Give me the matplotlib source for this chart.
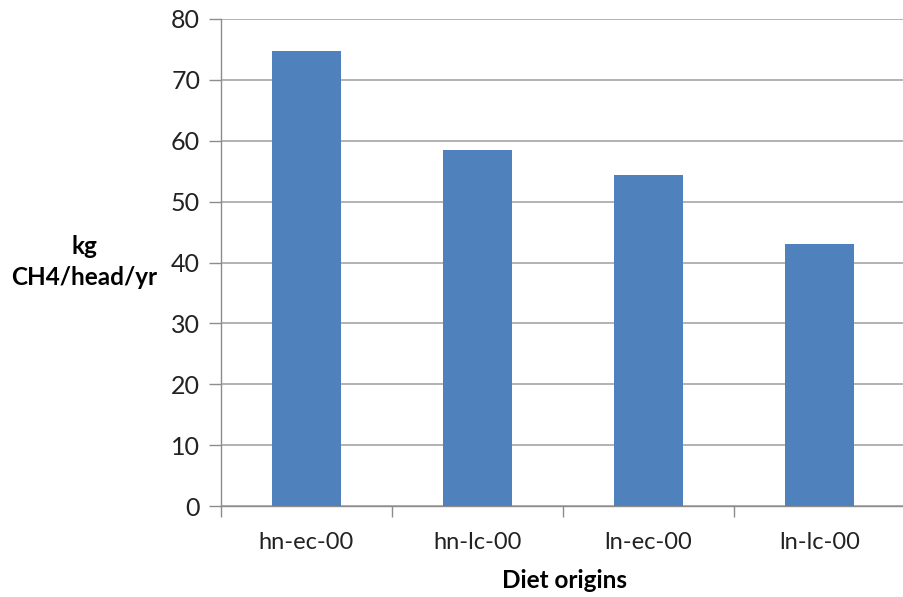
import matplotlib
matplotlib.use("Agg")
import matplotlib.pyplot as plt
from matplotlib.ticker import FixedLocator, NullFormatter

# Values
diets = ["hn-ec-00", "hn-lc-00", "ln-ec-00", "ln-lc-00"]
methane = [74.8, 58.5, 54.3, 43.1]
y_ticks = [0, 10, 20, 30, 40, 50, 60, 70, 80]

plt.rcParams["font.family"] = ["Lato", "DejaVu Sans"]

fig = plt.figure(figsize=(9.04, 5.97), dpi=100)
ax = fig.add_axes([221 / 904, 1 - 506 / 597, 684 / 904, 487 / 597])

x = list(range(len(diets)))
ax.bar(x, methane, width=0.40, color="#4F81BD", zorder=3)

ax.set_xlim(-0.5, len(diets) - 0.5)
ax.set_ylim(0, 80)
ax.set_yticks(y_ticks)
ax.yaxis.grid(True, color="#A6A6A6", linewidth=1.2, zorder=0)

# category labels centred, ticks at boundaries
ax.set_xticks(x)
ax.set_xticklabels(diets, fontsize=17, color="#222222")
ax.tick_params(axis="x", which="major", length=0, pad=19)
ax.xaxis.set_minor_locator(FixedLocator([i - 0.5 for i in range(len(diets) + 1)]))
ax.xaxis.set_minor_formatter(NullFormatter())
ax.tick_params(axis="x", which="minor", length=8, color="#8C8C8C", width=1)
ax.tick_params(axis="y", length=9, color="#8C8C8C", width=1, labelsize=18, labelcolor="#222222", pad=6)

for side in ["top", "right"]:
    ax.spines[side].set_visible(False)
for side in ["left", "bottom"]:
    ax.spines[side].set_color("#8C8C8C")
    ax.spines[side].set_linewidth(1)

fig.text(84 / 904, 1 - 262 / 597, "kg\nCH4/head/yr", ha="center", va="center",
         fontsize=17.5, fontweight="bold", linespacing=1.4)
fig.text(565 / 904, 1 - 581 / 597, "Diet origins", ha="center", va="center",
         fontsize=17.5, fontweight="bold")

fig.savefig("out.png", dpi=100)
